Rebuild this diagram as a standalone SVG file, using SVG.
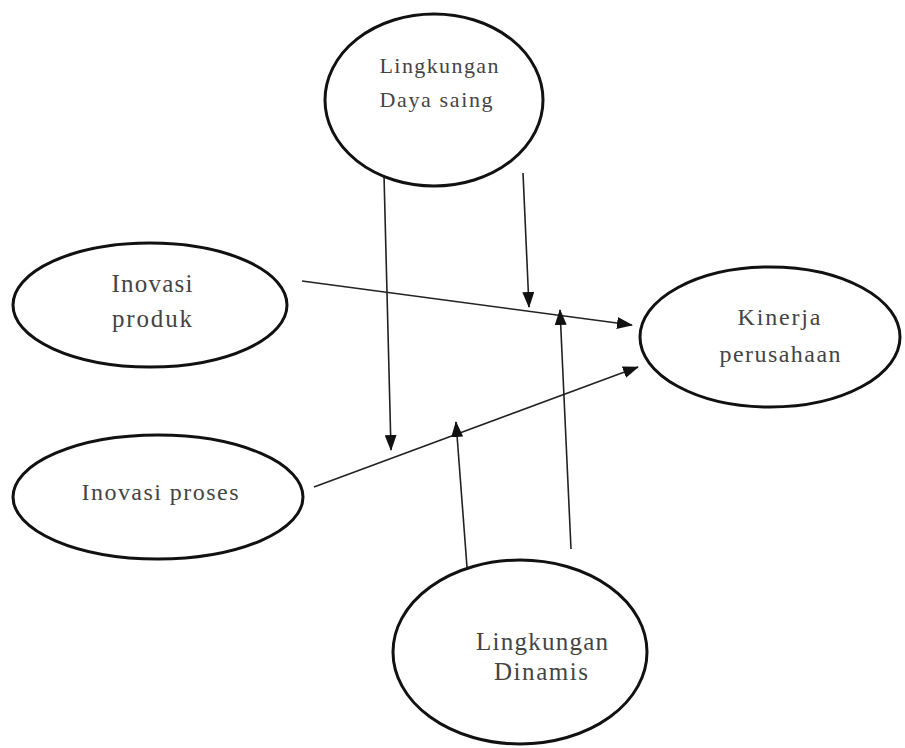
<svg xmlns="http://www.w3.org/2000/svg" width="905" height="748" viewBox="0 0 905 748">
<style>
.node ellipse{fill:none;stroke:#111;stroke-width:3}
.node text{font-family:"Liberation Serif","Times New Roman",serif;fill:#444;text-anchor:middle}
.conn line{stroke:#222;stroke-width:1.6}
</style>
<defs>
<marker id="ah" markerWidth="16" markerHeight="12" refX="15" refY="6" orient="auto" markerUnits="userSpaceOnUse">
<path d="M0,0 L16,6 L0,12 Z" fill="#111"/>
</marker>
</defs>
<rect width="905" height="748" fill="#fff"/>
<g id="connectors" class="conn">
<line x1="302" y1="281" x2="632" y2="325" marker-end="url(#ah)"/>
<line x1="314" y1="487" x2="638" y2="367" marker-end="url(#ah)"/>
<line x1="384" y1="175" x2="391" y2="450" marker-end="url(#ah)"/>
<line x1="523" y1="173" x2="529" y2="307" marker-end="url(#ah)"/>
<line x1="571" y1="549" x2="560" y2="310" marker-end="url(#ah)"/>
<line x1="467" y1="567" x2="456" y2="422" marker-end="url(#ah)"/>
</g>
<g id="daya-saing" class="node">
<ellipse cx="434" cy="100" rx="109" ry="86"/>
<text x="439" y="73" font-size="22" textLength="119" lengthAdjust="spacing">Lingkungan</text>
<text x="436" y="107" font-size="22" textLength="113" lengthAdjust="spacing">Daya saing</text>
</g>
<g id="inovasi-produk" class="node">
<ellipse cx="150" cy="305" rx="137" ry="62"/>
<text x="152" y="292" font-size="25" textLength="81" lengthAdjust="spacing">Inovasi</text>
<text x="152" y="327" font-size="25" textLength="80" lengthAdjust="spacing">produk</text>
</g>
<g id="inovasi-proses" class="node">
<ellipse cx="158" cy="497" rx="145" ry="62"/>
<text x="160" y="500" font-size="24" textLength="157" lengthAdjust="spacing">Inovasi proses</text>
</g>
<g id="kinerja" class="node">
<ellipse cx="770" cy="337" rx="130" ry="70"/>
<text x="779" y="325" font-size="24" textLength="83" lengthAdjust="spacing">Kinerja</text>
<text x="780" y="362" font-size="24" textLength="121" lengthAdjust="spacing">perusahaan</text>
</g>
<g id="dinamis" class="node">
<ellipse cx="520" cy="652" rx="127" ry="92"/>
<text x="542" y="650" font-size="25" textLength="132" lengthAdjust="spacing">Lingkungan</text>
<text x="541" y="680" font-size="25" textLength="94" lengthAdjust="spacing">Dinamis</text>
</g>
</svg>
